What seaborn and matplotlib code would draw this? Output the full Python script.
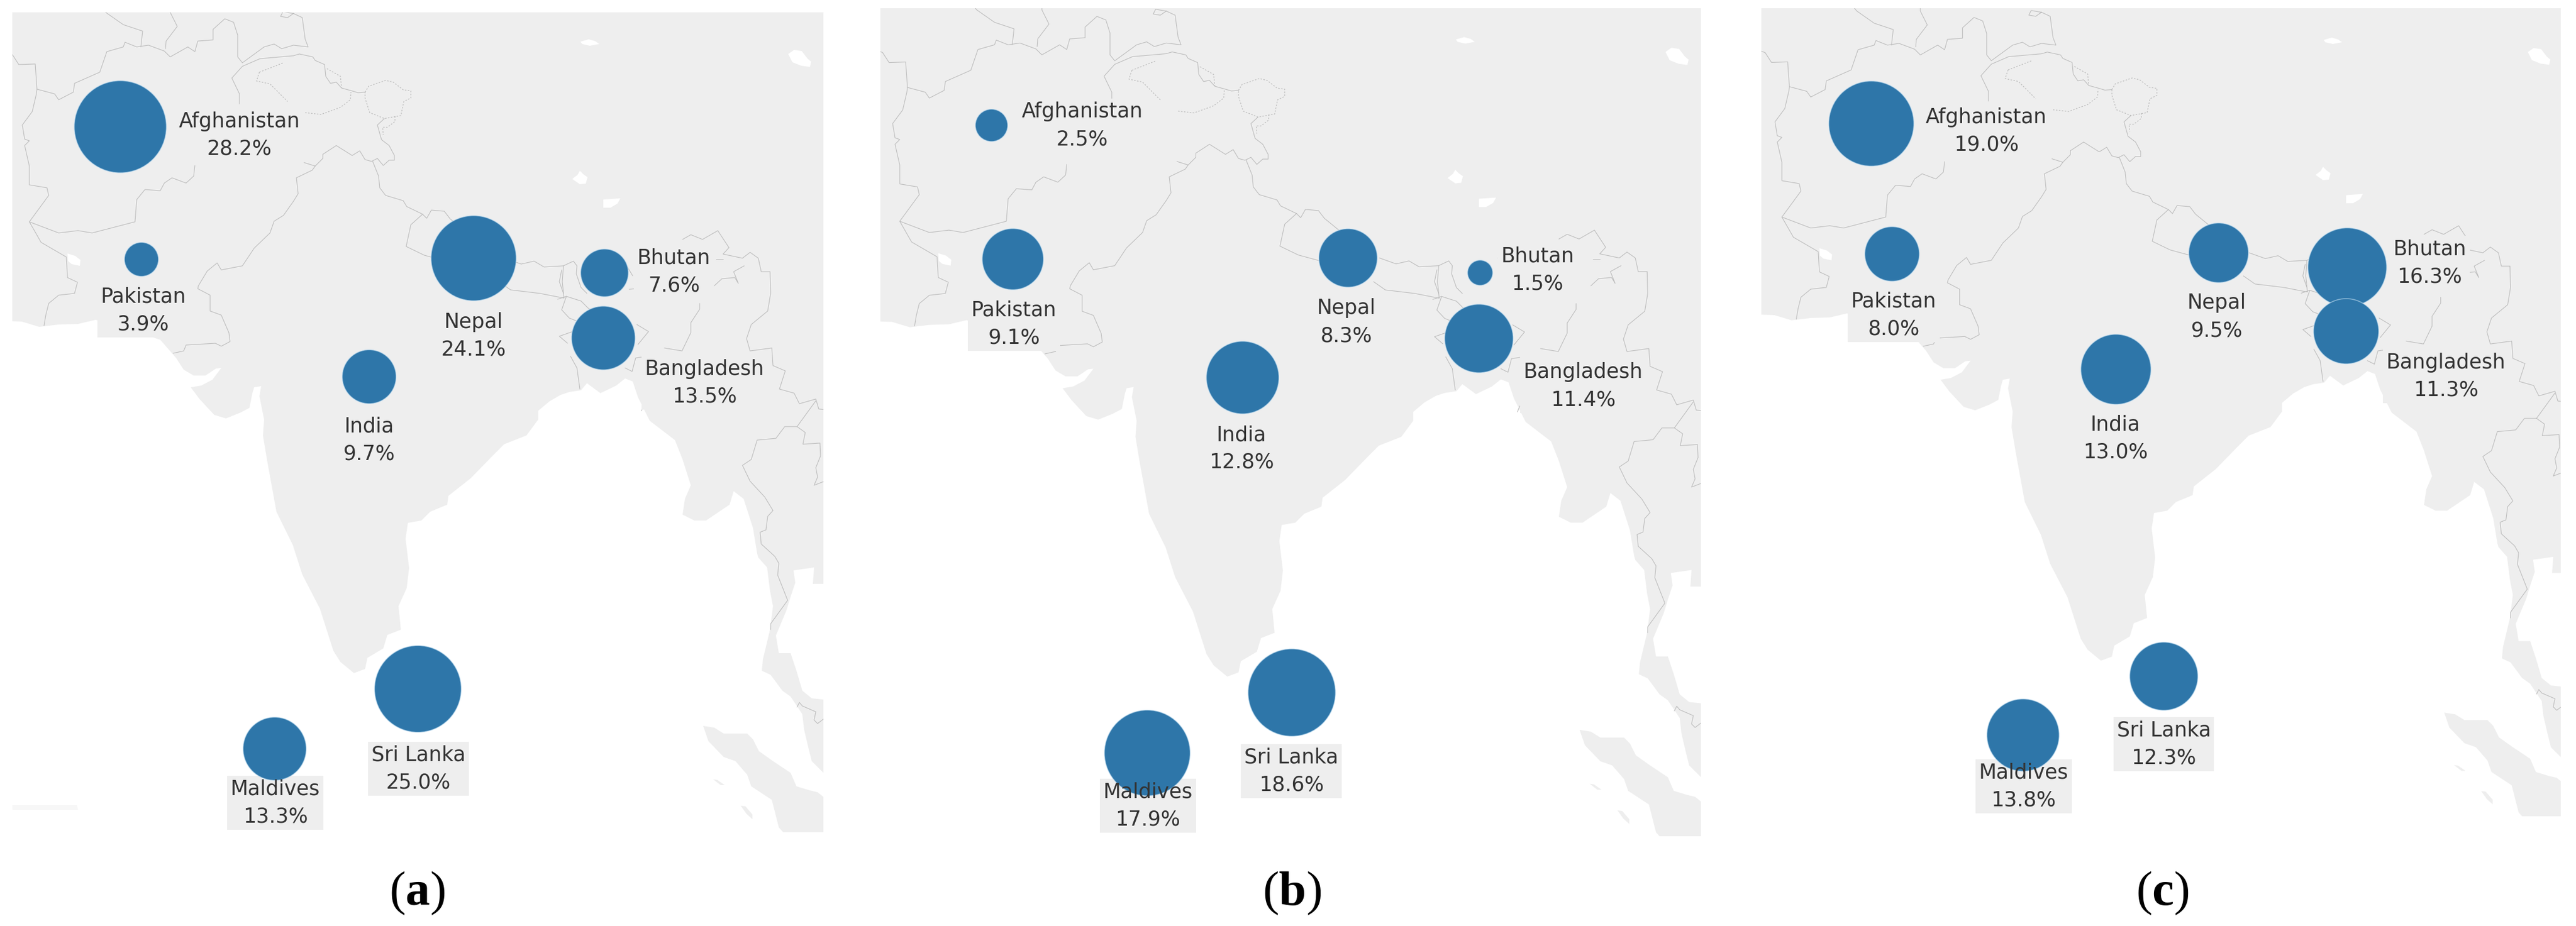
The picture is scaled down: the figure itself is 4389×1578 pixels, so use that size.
import matplotlib
matplotlib.use('Agg')
import matplotlib.pyplot as plt
import pandas as pd
import seaborn as sns

sns.set_theme(style='white')
plt.rcParams['font.family'] = ['DejaVu Sans']
plt.rcParams['mathtext.fontset'] = 'custom'
plt.rcParams['mathtext.rm'] = 'Liberation Serif'
plt.rcParams['mathtext.bf'] = 'Liberation Serif:bold'

countries = ['Afghanistan', 'Pakistan', 'Nepal', 'Bhutan', 'Bangladesh', 'India', 'Sri Lanka', 'Maldives']
map_x = [205, 241, 807, 1030, 1028, 629, 712, 468]
map_y = [216, 442, 440, 465, 576, 642, 1174, 1276]

share_a = [28.2, 3.9, 24.1, 7.6, 13.5, 9.7, 25.0, 13.3]
share_b = [2.5, 9.1, 8.3, 1.5, 11.4, 12.8, 18.6, 17.9]
share_c = [19.0, 8.0, 9.5, 16.3, 11.3, 13.0, 12.3, 13.8]

label_x_a = [408, 244, 807, 1148, 1200, 629, 713, 469]
label_y_a = [230, 529, 572, 463, 652, 750, 1310, 1368]
label_x_b = [358, 243, 804, 1127, 1204, 627, 711, 469]
label_y_b = [216, 551, 548, 460, 656, 762, 1307, 1365]
label_x_c = [404, 244, 804, 1173, 1201, 628, 712, 469]
label_y_c = [229, 548, 551, 457, 654, 762, 1292, 1365]

# land outline, traced by eye in the map's own units
land = [(-20, -20), (1430, -20), (1430, 995), (1385, 995), (1387, 967), (1352, 972), (1355, 993), (1347, 1017),
        (1340, 1040), (1322, 1083), (1327, 1113), (1347, 1113), (1357, 1143), (1367, 1177), (1383, 1190),
        (1430, 1195), (1430, 1325), (1403, 1317), (1383, 1297), (1377, 1273), (1370, 1243), (1367, 1217),
        (1347, 1187), (1333, 1177), (1313, 1150), (1298, 1143), (1300, 1123), (1312, 1073), (1317, 1033),
        (1312, 1007), (1307, 967), (1292, 950), (1290, 943), (1283, 900), (1267, 850), (1250, 837), (1243, 860),
        (1203, 887), (1183, 887), (1163, 877), (1167, 850), (1177, 827), (1163, 783), (1150, 750), (1107, 717),
        (1087, 677), (1078, 650), (1065, 645), (1050, 657), (1023, 670), (1000, 653), (990, 665), (970, 668),
        (955, 673), (936, 684), (917, 700), (917, 715), (897, 742), (859, 757), (840, 776), (802, 815), (764, 845),
        (762, 860), (733, 872), (718, 887), (695, 891), (691, 918), (697, 968), (693, 1002), (679, 1033),
        (683, 1073), (660, 1082), (653, 1105), (626, 1121), (622, 1140), (603, 1147), (580, 1128), (568, 1109),
        (545, 1037), (515, 979), (499, 929), (471, 872), (455, 784), (448, 742), (450, 715), (442, 675),
        (445, 658), (433, 660), (430, 670), (425, 695), (410, 703), (385, 713), (365, 707), (340, 680), (325, 660),
        (343, 657), (362, 647), (377, 627), (368, 628), (350, 640), (330, 640), (313, 630), (300, 610), (287, 595),
        (273, 579), (230, 565), (163, 545), (133, 552), (100, 553), (67, 557), (37, 548), (-20, 546)]
sumatra = [(1198, 1237), (1217, 1240), (1233, 1250), (1273, 1250), (1283, 1260), (1293, 1280), (1317, 1297),
           (1347, 1317), (1357, 1340), (1380, 1347), (1393, 1350), (1430, 1380), (1430, 1430), (1345, 1430),
           (1327, 1410), (1315, 1363), (1280, 1340), (1273, 1320), (1253, 1297), (1233, 1290), (1207, 1263)]
islets = [[(1215, 1328), (1222, 1329), (1235, 1338), (1228, 1338)],
          [(1262, 1373), (1270, 1374), (1282, 1388), (1282, 1396), (1272, 1387)]]
lakes = [[(989, 71), (1003, 67), (1014, 70), (1021, 75), (1005, 78), (992, 75)],
         [(1343, 92), (1353, 85), (1366, 87), (1376, 100), (1382, 105), (1380, 114), (1365, 112), (1350, 106)],
         [(975, 305), (984, 298), (988, 291), (994, 297), (1001, 302), (998, 313), (988, 314)],
         [(1028, 340), (1057, 338), (1052, 347), (1040, 354), (1028, 354)],
         [(115, 432), (128, 436), (137, 443), (136, 453), (122, 450), (116, 445)]]
# the faint strip bottom left of panel (a)
strip = [(21, 1372), (131, 1372), (133, 1380), (21, 1380)]

borders = [
    [(0, 85), (21, 93), (32, 110), (60, 109), (63, 152), (62, 160), (55, 190), (38, 213), (42, 237), (50, 240),
     (42, 248), (50, 283), (50, 315), (80, 320), (83, 333), (50, 378), (70, 413), (113, 438), (115, 473),
     (132, 481), (127, 500), (100, 503), (83, 517), (78, 537), (75, 555)],
    [(63, 152), (93, 160), (100, 170), (125, 157), (127, 142), (170, 123), (182, 88), (210, 80), (213, 72),
     (233, 80), (253, 77), (280, 87), (290, 97), (320, 80), (332, 88), (337, 70), (363, 68), (363, 50), (383, 32),
     (398, 38), (405, 60), (405, 97), (413, 107), (450, 80), (467, 75), (480, 83), (500, 77), (525, 80), (520, 67),
     (515, 30), (500, 23), (482, 20), (478, 28), (490, 30), (500, 23)],
    [(240, 80), (243, 53), (210, 42), (180, 21), (175, 15)],
    [(282, 83), (283, 70), (302, 45), (290, 21), (290, 15)],
    [(50, 378), (100, 397), (133, 393), (157, 397), (230, 378), (233, 340), (247, 323), (273, 325), (280, 312),
     (293, 303), (317, 312), (330, 300), (332, 282)],
    [(408, 177), (408, 160), (395, 133), (413, 113), (443, 100), (500, 95), (510, 92), (533, 97), (537, 103),
     (553, 110), (555, 130), (563, 142), (573, 140), (582, 150), (600, 155), (610, 158), (622, 157)],
    [(295, 602), (313, 598), (317, 588), (367, 585), (377, 590), (392, 582), (390, 567), (377, 537), (358, 530),
     (358, 503), (337, 492), (338, 487), (353, 462), (370, 448), (377, 460), (413, 453), (433, 423), (460, 397),
     (467, 377), (483, 367), (500, 343), (508, 330), (505, 303), (532, 290), (537, 283), (518, 277)],
    [(537, 283), (550, 270), (550, 263), (573, 248), (600, 265), (613, 257), (622, 272), (633, 275), (643, 270),
     (653, 282), (663, 273), (672, 273), (672, 265), (663, 248), (650, 238), (643, 213), (655, 202)],
    [(635, 275), (645, 300), (647, 320), (657, 333), (687, 342), (693, 352), (720, 365), (727, 372), (735, 358),
     (757, 360), (767, 373), (800, 400)],
    [(720, 365), (700, 383), (692, 420), (723, 435), (760, 445)],
    [(850, 480), (870, 494), (920, 500), (961, 508), (958, 480), (960, 453), (927, 455), (910, 445), (888, 450),
     (860, 440)],
    [(960, 453), (977, 445), (983, 453), (982, 467), (990, 490), (1000, 500)],
    [(1060, 440), (1078, 470)],
    [(1072, 493), (1082, 492)],
    [(1163, 408), (1177, 400), (1197, 408), (1223, 393), (1242, 422), (1232, 433), (1265, 440), (1278, 430),
     (1292, 440), (1297, 463), (1312, 463), (1313, 500), (1308, 530), (1280, 553), (1272, 577), (1278, 598),
     (1315, 593), (1317, 623), (1338, 632), (1328, 663), (1353, 670), (1362, 688), (1390, 680), (1395, 697),
     (1430, 700)],
    [(1390, 683), (1358, 727), (1337, 727), (1322, 747), (1290, 750), (1280, 783), (1265, 793), (1278, 820),
     (1303, 847), (1317, 870), (1308, 880), (1305, 903), (1295, 907), (1297, 927), (1320, 948), (1327, 960),
     (1325, 980), (1342, 1023), (1313, 1063), (1313, 1073)],
    [(1358, 727), (1372, 737), (1368, 757), (1397, 755), (1398, 777), (1390, 797), (1393, 813), (1387, 827),
     (1410, 818)],
    [(1358, 1205), (1362, 1197), (1367, 1203), (1390, 1213), (1387, 1227), (1393, 1233), (1410, 1220)],
    [(950, 510), (965, 505), (990, 513), (1002, 525), (1010, 530)],
    [(960, 500), (953, 480), (957, 460)],
    [(965, 505), (957, 528), (970, 542), (990, 550)],
    [(990, 560), (953, 573), (967, 585)],
    [(972, 607), (983, 627), (988, 663)],
    [(1085, 553), (1105, 565), (1087, 587)],
    [(1097, 608), (1083, 610), (1077, 633), (1065, 627)],
    [(1192, 517), (1192, 527), (1177, 550), (1177, 567), (1162, 598), (1132, 593)],
    [(1093, 700), (1097, 690)],
    [(1217, 487), (1230, 475), (1252, 473), (1258, 483), (1250, 463), (1268, 453)],
    [(1220, 442), (1232, 442)],
]
dotted_borders = [
    [(442, 123), (437, 138), (460, 143), (490, 173)],
    [(442, 123), (483, 107)],
    [(557, 117), (580, 130), (582, 150)],
    [(520, 192), (547, 195), (580, 183), (597, 170), (598, 157)],
    [(622, 157), (628, 147), (657, 137), (670, 140), (687, 153), (700, 155), (700, 167), (688, 173), (683, 197),
     (655, 202), (630, 192), (622, 167), (622, 157)],
    [(673, 198), (673, 207), (660, 217), (652, 217), (653, 230)],
]

panels = [
    {'share': share_a, 'lx': label_x_a, 'ly': label_y_a, 'tag': 'a', 'box': (21, 21, 1403, 1418),
     'xlim': (21, 1403), 'ylim': (1418, 21), 'diam': (58, 157), 'cap_x': 711},
    {'share': share_b, 'lx': label_x_b, 'ly': label_y_b, 'tag': 'b', 'box': (1500, 14, 2898, 1425),
     'xlim': (17.3, 1402.8), 'ylim': (1416.6, 18.2), 'diam': (43, 149), 'cap_x': 2201},
    {'share': share_c, 'lx': label_x_c, 'ly': label_y_c, 'tag': 'c', 'box': (3001, 14, 4363, 1391),
     'xlim': (14.4, 1400), 'ylim': (1416.7, 16), 'diam': (93, 145), 'cap_x': 3684},
]

W, H = 4389, 1578
LAND = '#eeeeee'
BUBBLE = '#2e76a9'
HALO = (0.80, 0.90, 0.97, 0.55)
BORDER = '#bcbcbc'

fig = plt.figure(figsize=(W / 100, H / 100), dpi=100, facecolor='white')

for p in panels:
    x0, y0, x1, y1 = p['box']
    ax = fig.add_axes([x0 / W, 1 - y1 / H, (x1 - x0) / W, (y1 - y0) / H])
    ax.set_facecolor('white')

    for poly in [land, sumatra] + islets:
        ax.fill(*zip(*poly), color=LAND, lw=0, zorder=1)
    for poly in lakes:
        ax.fill(*zip(*poly), color='white', lw=0, zorder=2)
    if p['tag'] == 'a':
        ax.fill(*zip(*strip), color='#f7f7f7', lw=0, zorder=1)
    for line in borders:
        ax.plot(*zip(*line), color=BORDER, lw=0.8, zorder=3)
    for line in dotted_borders:
        ax.plot(*zip(*line), color=BORDER, lw=0.9, ls=(0, (2, 2)), zorder=3)

    df = pd.DataFrame({'x': map_x, 'y': map_y, 'share': p['share']})
    # area goes with the share, each panel has its own size range
    sizes = ((p['diam'][0] * 0.72) ** 2, (p['diam'][1] * 0.72) ** 2)
    sns.scatterplot(data=df, x='x', y='y', size='share', sizes=sizes,
                    size_norm=(min(p['share']), max(p['share'])), color=BUBBLE,
                    edgecolor=HALO, linewidth=1.2, legend=False, ax=ax, zorder=5)

    for name, val, lx, ly in zip(countries, p['share'], p['lx'], p['ly']):
        # grey box sits under the bubbles, the words sit over them
        kw = dict(ha='center', va='center', ma='center', fontsize=25, linespacing=1.48)
        ax.text(lx, ly, f'{name}\n{val:.1f}%', color='none', zorder=4,
                bbox=dict(boxstyle='square,pad=0.16', fc=LAND, ec='none'), **kw)
        ax.text(lx, ly, f'{name}\n{val:.1f}%', color='#333333', zorder=6, **kw)

    ax.set_xlim(*p['xlim'])
    ax.set_ylim(*p['ylim'])
    ax.set_xlabel('')
    ax.set_ylabel('')
    ax.set_xticks([])
    ax.set_yticks([])
    sns.despine(ax=ax, left=True, bottom=True)

    fig.text(p['cap_x'] / W, 1 - 1522 / H, rf'$\mathrm{{(}}\mathbf{{{p["tag"]}}}\mathrm{{)}}$',
             ha='center', va='center', fontsize=60, color='black')

fig.savefig('out.png', dpi=100, facecolor='white')
